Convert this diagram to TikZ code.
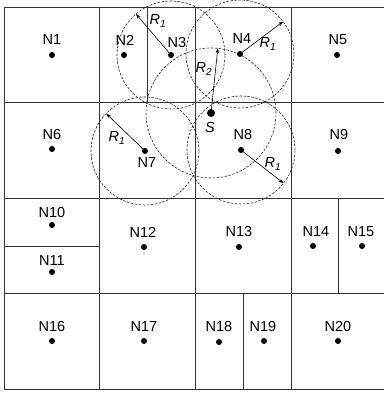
\documentclass[tikz,border=0pt]{standalone}
\usepackage{fontspec}
\setmainfont{Liberation Sans}
\usetikzlibrary{arrows.meta,calc}
\begin{document}
\begin{tikzpicture}[x=1pt,y=-1pt,
  grid/.style={draw=black!80,line width=0.8pt},
  dot/.style={circle,fill=black,inner sep=0pt,minimum size=6pt},
  sdot/.style={circle,fill=black,inner sep=0pt,minimum size=8pt},
  lbl/.style={inner sep=0pt,font=\fontsize{14.5}{16}\selectfont},
  rlbl/.style={inner sep=0pt,font=\fontsize{14.5}{16}\selectfont\itshape},
  rangecircle/.style={draw=black!85,line width=0.6pt,dash pattern=on 2.5pt off 1.5pt},
  radiusarrow/.style={draw=black,line width=0.6pt,-{Stealth[length=5pt,width=3.5pt]}}]
\useasboundingbox (0,0) rectangle (383,395);
% grid
\draw[grid] (4,7) rectangle (386,389);
\draw[grid] (4,102) -- (386,102);
\draw[grid] (4,198) -- (386,198);
\draw[grid] (4,293) -- (386,293);
\draw[grid] (4,246) -- (99,246);
\draw[grid] (99,7) -- (99,389);
\draw[grid] (195,7) -- (195,389);
\draw[grid] (291,7) -- (291,389);
\draw[grid] (147,7) -- (147,102);
\draw[grid] (338,198) -- (338,293);
\draw[grid] (243,293) -- (243,389);
% node positions
\coordinate (p3) at (171,55);
\coordinate (p4) at (240,54);
\coordinate (ps) at (211,113);
\coordinate (p7) at (145,151);
\coordinate (p8) at (241,150);
% ranges
\draw[rangecircle] (p3) circle[radius=54pt];
\draw[rangecircle] (p4) circle[radius=54pt];
\draw[rangecircle] (p7) circle[radius=54pt];
\draw[rangecircle] (p8) circle[radius=54pt];
\draw[rangecircle] (ps) circle[radius=65pt];
% radius arrows
\coordinate (e3) at ($(p3)+(130.5:54pt)$);
\coordinate (e4) at ($(p4)+(37:54pt)$);
\coordinate (es) at ($(ps)+(84:65pt)$);
\coordinate (e7) at ($(p7)+(136:54pt)$);
\coordinate (e8) at ($(p8)+(-38:54pt)$);
\draw[radiusarrow] (p3) -- (e3);
\draw[radiusarrow] (p4) -- (e4);
\draw[radiusarrow] (ps) -- (es);
\draw[radiusarrow] (p7) -- (e7);
\draw[radiusarrow] (p8) -- (e8);
\node[rlbl] (r3) at (158,21) {R\textsubscript{1}};
\node[rlbl] (r4) at (268,44) {R\textsubscript{1}};
\node[rlbl] (rs) at (204,69) {R\textsubscript{2}};
\node[rlbl] (r7) at (117,138) {R\textsubscript{1}};
\node[rlbl] (r8) at (273,164) {R\textsubscript{1}};
% dots
\node[dot] (n1) at (52,55) {};
\node[dot] (n2) at (124,55) {};
\node[dot] (n3) at (p3) {};
\node[dot] (n4) at (p4) {};
\node[dot] (n5) at (337,55) {};
\node[dot] (n6) at (52,149) {};
\node[dot] (n7) at (p7) {};
\node[sdot] (s) at (ps) {};
\node[dot] (n8) at (p8) {};
\node[dot] (n9) at (338,151) {};
\node[dot] (n10) at (52,225) {};
\node[dot] (n11) at (52,272) {};
\node[dot] (n12) at (144,247) {};
\node[dot] (n13) at (239,247) {};
\node[dot] (n14) at (313,246) {};
\node[dot] (n15) at (362,246) {};
\node[dot] (n16) at (52,341) {};
\node[dot] (n17) at (144,341) {};
\node[dot] (n18) at (219,342) {};
\node[dot] (n19) at (264,341) {};
\node[dot] (n20) at (338,341) {};
% labels
\node[lbl] (l1) at (52,40) {N1};
\node[lbl] (l2) at (125,40) {N2};
\node[lbl] (l3) at (177,43) {N3};
\node[lbl] (l4) at (242,39) {N4};
\node[lbl] (l5) at (338,40) {N5};
\node[lbl] (l6) at (52,135) {N6};
\node[lbl] (l7) at (147,163) {N7};
\node[rlbl] (ls) at (210,128) {S};
\node[lbl] (l8) at (243,135) {N8};
\node[lbl] (l9) at (339,135) {N9};
\node[lbl] (l10) at (52,213) {N10};
\node[lbl] (l11) at (52,261) {N11};
\node[lbl] (l12) at (143,232) {N12};
\node[lbl] (l13) at (239,232) {N13};
\node[lbl] (l14) at (316,232) {N14};
\node[lbl] (l15) at (361,232) {N15};
\node[lbl] (l16) at (52,327) {N16};
\node[lbl] (l17) at (144,327) {N17};
\node[lbl] (l18) at (219,327) {N18};
\node[lbl] (l19) at (263,327) {N19};
\node[lbl] (l20) at (338,327) {N20};
\end{tikzpicture}
\end{document}
